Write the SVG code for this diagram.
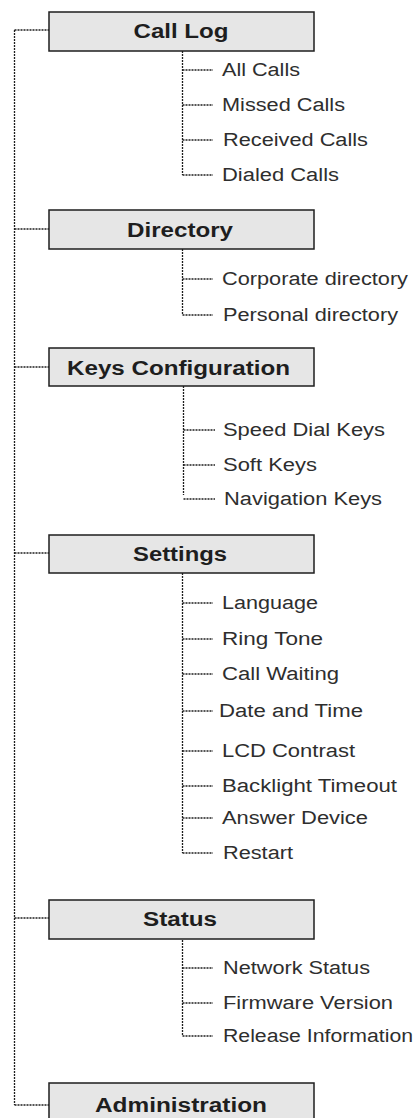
<svg xmlns="http://www.w3.org/2000/svg" width="420" height="1118" viewBox="0 0 420 1118">
<style>
.box{fill:#e6e6e6;stroke:#1e1e1e;stroke-width:1.5}
.bt{font-family:"Liberation Sans",Arial,sans-serif;font-weight:bold;font-size:20px;fill:#1e1e1e;text-anchor:middle}
.ct{font-family:"Liberation Sans",Arial,sans-serif;font-size:18px;fill:#2e2e2e}
.ln{fill:none;stroke:#1e1e1e;stroke-width:1.3;stroke-dasharray:2 1}
</style>
<rect width="420" height="1118" fill="#fff"/>
<g id="connectors">
<path class="ln" d="M14.5 30V1105M14.5 30H49M14.5 229H49M14.5 367H49M14.5 553H49M14.5 918H49M14.5 1105H49"/>
<path class="ln" d="M182.5 51V175M182.5 70H213M182.5 105H213M182.5 140H213M182.5 175H213"/>
<path class="ln" d="M182.5 249V315M182.5 279H213M182.5 315H213"/>
<path class="ln" d="M183.5 386V495M183.5 430H215M183.5 465H215M183.5 499H215"/>
<path class="ln" d="M182.5 573V853M182.5 603H213M182.5 639H213M182.5 674H213M182.5 711H213M182.5 751H213M182.5 786H213M182.5 818H213M182.5 853H213"/>
<path class="ln" d="M182.5 940V1036M182.5 968H213M182.5 1003H213M182.5 1036H213"/>
</g>
<g id="call-log"><rect class="box" x="49" y="12" width="265" height="39"/><text class="bt" x="181" y="38" textLength="95" lengthAdjust="spacingAndGlyphs">Call Log</text></g>
<g id="all-calls"><text class="ct" x="222" y="76" textLength="78" lengthAdjust="spacingAndGlyphs">All Calls</text></g>
<g id="missed-calls"><text class="ct" x="222" y="111" textLength="123" lengthAdjust="spacingAndGlyphs">Missed Calls</text></g>
<g id="received-calls"><text class="ct" x="223" y="146" textLength="145" lengthAdjust="spacingAndGlyphs">Received Calls</text></g>
<g id="dialed-calls"><text class="ct" x="222" y="181" textLength="117" lengthAdjust="spacingAndGlyphs">Dialed Calls</text></g>
<g id="directory"><rect class="box" x="49" y="210" width="265" height="39"/><text class="bt" x="180" y="237" textLength="106" lengthAdjust="spacingAndGlyphs">Directory</text></g>
<g id="corporate-directory"><text class="ct" x="222" y="285" textLength="186" lengthAdjust="spacingAndGlyphs">Corporate directory</text></g>
<g id="personal-directory"><text class="ct" x="223" y="321" textLength="175" lengthAdjust="spacingAndGlyphs">Personal directory</text></g>
<g id="keys-configuration"><rect class="box" x="49" y="348" width="265" height="38"/><text class="bt" x="178.5" y="375" textLength="223" lengthAdjust="spacingAndGlyphs">Keys Configuration</text></g>
<g id="speed-dial-keys"><text class="ct" x="223" y="436" textLength="162" lengthAdjust="spacingAndGlyphs">Speed Dial Keys</text></g>
<g id="soft-keys"><text class="ct" x="223" y="471" textLength="94" lengthAdjust="spacingAndGlyphs">Soft Keys</text></g>
<g id="navigation-keys"><text class="ct" x="224" y="505" textLength="158" lengthAdjust="spacingAndGlyphs">Navigation Keys</text></g>
<g id="settings"><rect class="box" x="49" y="535" width="265" height="38"/><text class="bt" x="180" y="561" textLength="94" lengthAdjust="spacingAndGlyphs">Settings</text></g>
<g id="language"><text class="ct" x="222" y="609" textLength="96" lengthAdjust="spacingAndGlyphs">Language</text></g>
<g id="ring-tone"><text class="ct" x="222" y="645" textLength="101" lengthAdjust="spacingAndGlyphs">Ring Tone</text></g>
<g id="call-waiting"><text class="ct" x="222" y="680" textLength="117" lengthAdjust="spacingAndGlyphs">Call Waiting</text></g>
<g id="date-and-time"><text class="ct" x="219" y="717" textLength="144" lengthAdjust="spacingAndGlyphs">Date and Time</text></g>
<g id="lcd-contrast"><text class="ct" x="222" y="757" textLength="133" lengthAdjust="spacingAndGlyphs">LCD Contrast</text></g>
<g id="backlight-timeout"><text class="ct" x="222" y="792" textLength="175" lengthAdjust="spacingAndGlyphs">Backlight Timeout</text></g>
<g id="answer-device"><text class="ct" x="222" y="824" textLength="146" lengthAdjust="spacingAndGlyphs">Answer Device</text></g>
<g id="restart"><text class="ct" x="223" y="859" textLength="70" lengthAdjust="spacingAndGlyphs">Restart</text></g>
<g id="status"><rect class="box" x="49" y="900" width="265" height="39"/><text class="bt" x="180" y="926" textLength="74" lengthAdjust="spacingAndGlyphs">Status</text></g>
<g id="network-status"><text class="ct" x="223" y="974" textLength="147" lengthAdjust="spacingAndGlyphs">Network Status</text></g>
<g id="firmware-version"><text class="ct" x="223" y="1009" textLength="170" lengthAdjust="spacingAndGlyphs">Firmware Version</text></g>
<g id="release-information"><text class="ct" x="223" y="1042" textLength="190" lengthAdjust="spacingAndGlyphs">Release Information</text></g>
<g id="administration"><rect class="box" x="49" y="1083" width="265" height="45"/><text class="bt" x="181" y="1112" textLength="172" lengthAdjust="spacingAndGlyphs">Administration</text></g>
</svg>
